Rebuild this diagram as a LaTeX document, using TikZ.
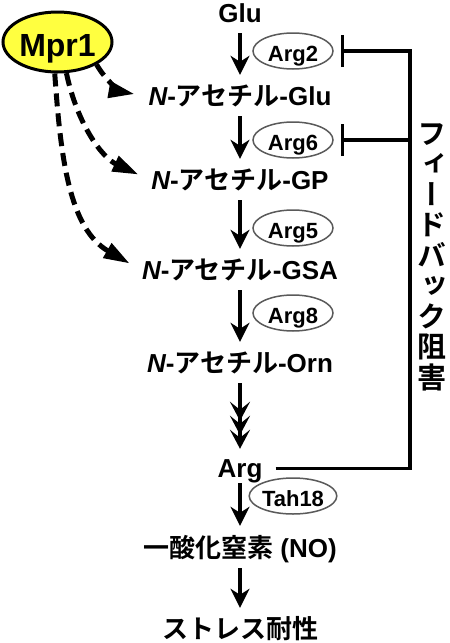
\documentclass[tikz,border=0pt]{standalone}
\usepackage{fontspec}
\setmainfont{Liberation Sans}
\newfontfamily\jp{Noto Sans CJK JP}[BoldFont={Noto Sans CJK JP Bold}]
\newfontfamily\jpv{Noto Sans CJK JP}[BoldFont={Noto Sans CJK JP Bold},RawFeature=+vert]
\usetikzlibrary{arrows.meta,shapes.geometric}
\definecolor{mpry}{RGB}{255,255,64}
\definecolor{enzg}{RGB}{90,90,90}
\newcommand{\nacet}{{\itshape N}-{\jp アセチル}-}
\begin{document}
\begin{tikzpicture}[x=1pt,y=1pt,
  lab/.style={font=\fontsize{26}{30}\selectfont\bfseries, inner sep=0pt, text height=19pt, text depth=2pt, anchor=base},
  enz/.style={ellipse, draw=enzg, line width=1.5pt, minimum width=80pt, minimum height=36pt, inner sep=0pt, text height=20pt, text depth=0pt, font=\fontsize{22}{26}\selectfont\bfseries},
  mprs/.style={ellipse, draw=black, line width=3pt, fill=mpry, minimum width=109pt, minimum height=60pt, inner sep=0pt, text height=29pt, text depth=0pt, font=\fontsize{32}{36}\selectfont\bfseries},
  mainarr/.style={line width=3.5pt, -{Stealth[length=19pt,width=19pt,inset=6pt]}, shorten <=9pt, shorten >=11pt},
  tip3/.style={},
  triarr/.style={line width=3.5pt, -{Stealth[length=19pt,width=20pt,inset=8pt,sep=-5pt]Stealth[length=19pt,width=20pt,inset=8pt,sep=-5pt]Stealth[length=19pt,width=20pt,inset=8pt]}, shorten <=9pt, shorten >=9pt},
  dsh/.style={line width=5pt, dash pattern=on 13pt off 7pt, -{Triangle[length=26pt,width=16pt]}, shorten >=14pt},
  fb/.style={line width=3.5pt},
  fbend/.style={-{Bar[width=32pt]}, shorten >=7pt},
  vt/.style={font=\jpv\bfseries\fontsize{29}{30.5}\selectfont, align=center, inner sep=0pt}
]
\fill[white] (0,0) rectangle (450,-643);
\useasboundingbox (0,0) rectangle (450,-643);

% metabolites
\node[lab] (glu) at (240,-22) {Glu};
\node[lab] (nglu) at (240,-105) {\nacet Glu};
\node[lab] (ngp) at (240,-189) {\nacet GP};
\node[lab] (ngsa) at (240,-279) {\nacet GSA};
\node[lab] (norn) at (240,-372) {\nacet Orn};
\node[lab] (arg) at (240,-477) {Arg};
\node[lab] (no) at (240,-557) {{\jp 一酸化窒素} (NO)};
\node[lab] (str) at (240,-638) {\jp ストレス耐性};

% enzymes
\node[enz] (arg2) at (293,-51) {Arg2};
\node[enz] (arg6) at (293,-140) {Arg6};
\node[enz] (arg5) at (293,-228) {Arg5};
\node[enz] (arg8) at (293,-313) {Arg8};
\node[enz] (tah) at (293,-496) {Tah18};

% Mpr1
\node[mprs] (mpr) at (57.5,-42) {Mpr1};

% main pathway arrows
\draw[mainarr] (glu.south) -- (nglu.north);
\draw[mainarr] (nglu.south) -- (ngp.north);
\draw[mainarr] (ngp.south) -- (ngsa.north);
\draw[mainarr] (ngsa.south) -- (norn.north);
\draw[triarr] (norn.south) -- (arg.north);
\draw[mainarr, shorten <=4pt, shorten >=12pt] (arg.south) -- (no.north);
\draw[mainarr] (no.south) -- (str.north);

% feedback inhibition
\coordinate (fbc) at (410,-51);
\draw[fb, fbend, shorten <=13pt] (arg.east) -| (fbc) -- (arg2.east);
\draw[fb, fbend] (fbc |- arg6) -- (arg6.east);
\node[vt] (fbtext) at (432,-257) {フ\\ィ\\ー\\ド\\バ\\ッ\\ク\\阻\\害};

% Mpr1 dashed arrows
\draw[dsh] (mpr.-30) to[out=-60,in=170] (nglu.west);
\draw[dsh] (mpr.-74) to[out=-78,in=155] (ngp.west);
\draw[dsh] (mpr.-95) to[out=-86,in=150] (ngsa.west);
\end{tikzpicture}
\end{document}
